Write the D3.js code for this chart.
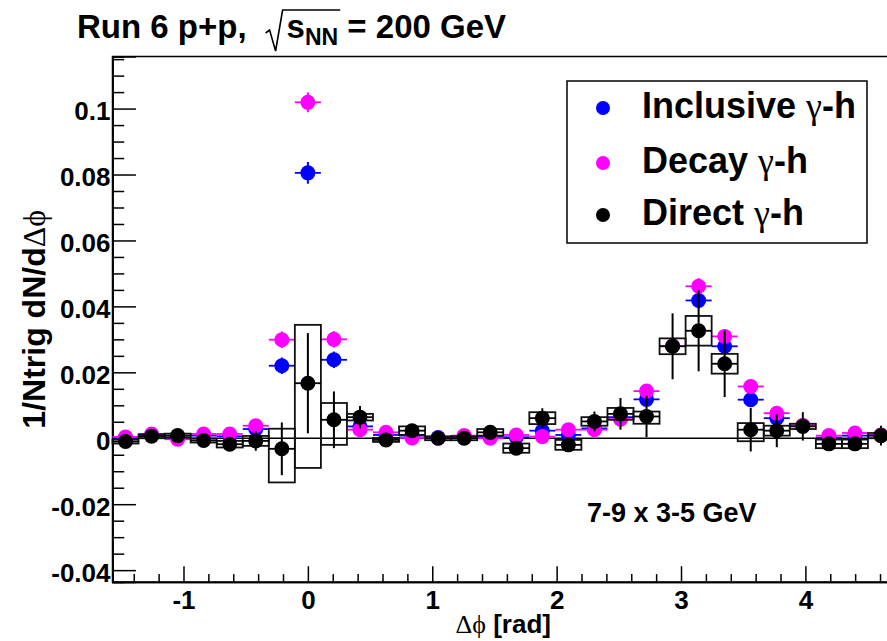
<!DOCTYPE html>
<html>
<head>
<meta charset="utf-8">
<script src="https://cdn.jsdelivr.net/npm/d3@7/dist/d3.min.js"></script>
<style>
  html, body { margin: 0; padding: 0; background: #fff; }
  svg { display: block; }
  text { font-family: "Liberation Sans", Arial, Helvetica, sans-serif; font-weight: bold; fill: #000; }
  .greek { font-family: "Liberation Serif", "DejaVu Serif", serif; font-weight: normal; }
</style>
</head>
<body>
<svg id="chart" width="887" height="641"></svg>
<script>
// Δφ bin centres (30 bins from -π/2 to 3π/2)
const phiBins = [-1.4661, -1.2566, -1.0472, -0.8378, -0.6283, -0.4189, -0.2094, 0.0, 0.2094, 0.4189,
                 0.6283, 0.8378, 1.0472, 1.2566, 1.4661, 1.6755, 1.8850, 2.0944, 2.3038, 2.5133,
                 2.7227, 2.9322, 3.1416, 3.3510, 3.5605, 3.7699, 3.9794, 4.1888, 4.3982, 4.6077];
const binHalfWidth = 0.1047;

// Inclusive γ-h
const inclusiveY = [0.0002, 0.0010, 0.0002, 0.0008, 0.0006, 0.0028, 0.0220, 0.0805, 0.0238, 0.0036,
                    0.0010, 0.0008, 0.0002, 0.0005, 0.0004, 0.0003, 0.0023, 0.0010, 0.0030, 0.0064,
                    0.0118, 0.0280, 0.0418, 0.0279, 0.0117, 0.0061, 0.0038, 0.0002, 0.0008, 0.0009];
const inclusiveErr = [0.0012, 0.0012, 0.0012, 0.0012, 0.0012, 0.0015, 0.0025, 0.0033, 0.0025, 0.0015,
                      0.0012, 0.0012, 0.0012, 0.0012, 0.0012, 0.0012, 0.0012, 0.0012, 0.0015, 0.0015,
                      0.0020, 0.0022, 0.0025, 0.0022, 0.0020, 0.0015, 0.0015, 0.0012, 0.0012, 0.0012];

// Decay γ-h
const decayY = [0.0004, 0.0013, -0.0003, 0.0013, 0.0013, 0.0038, 0.0299, 0.1019, 0.0300, 0.0026,
                0.0018, 0.0001, 0.0000, 0.0008, 0.0000, 0.0010, 0.0005, 0.0026, 0.0026, 0.0058,
                0.0143, 0.0280, 0.0461, 0.0309, 0.0157, 0.0076, 0.0039, 0.0008, 0.0016, 0.0010];
const decayErr = [0.0012, 0.0012, 0.0012, 0.0012, 0.0012, 0.0015, 0.0025, 0.0030, 0.0025, 0.0015,
                  0.0012, 0.0012, 0.0012, 0.0012, 0.0012, 0.0012, 0.0012, 0.0012, 0.0015, 0.0015,
                  0.0020, 0.0022, 0.0025, 0.0022, 0.0020, 0.0015, 0.0015, 0.0012, 0.0012, 0.0012];

// Direct γ-h, statistical errors and asymmetric systematic extents
const directY = [-0.0010, 0.0006, 0.0008, -0.0007, -0.0018, -0.0008, -0.0032, 0.0167, 0.0056, 0.0064,
                 -0.0005, 0.0023, 0.0000, 0.0000, 0.0018, -0.0030, 0.0061, -0.0020, 0.0051, 0.0074,
                 0.0066, 0.0279, 0.0326, 0.0226, 0.0026, 0.0023, 0.0036, -0.0017, -0.0017, 0.0008];
const directErr = [0.0020, 0.0020, 0.0020, 0.0020, 0.0020, 0.0030, 0.0080, 0.0152, 0.0086, 0.0034,
                   0.0020, 0.0020, 0.0020, 0.0020, 0.0022, 0.0020, 0.0030, 0.0020, 0.0030, 0.0048,
                   0.0063, 0.0100, 0.0123, 0.0101, 0.0066, 0.0050, 0.0043, 0.0020, 0.0020, 0.0030];
const directSysLow = [0.0006, 0.0006, 0.0006, 0.0006, 0.0010, 0.0015, 0.0102, 0.0257, 0.0076, 0.0010,
                      0.0006, 0.0013, 0.0006, 0.0006, 0.0010, 0.0014, 0.0018, 0.0015, 0.0013, 0.0018,
                      0.0022, 0.0024, 0.0045, 0.0030, 0.0035, 0.0015, 0.0008, 0.0013, 0.0013, 0.0008];
const directSysHigh = [0.0006, 0.0006, 0.0006, 0.0006, 0.0010, 0.0015, 0.0061, 0.0177, 0.0051, 0.0010,
                       0.0006, 0.0013, 0.0006, 0.0006, 0.0010, 0.0014, 0.0018, 0.0015, 0.0013, 0.0018,
                       0.0015, 0.0024, 0.0045, 0.0030, 0.0020, 0.0015, 0.0008, 0.0013, 0.0013, 0.0008];

// Axis ticks
const xMajorTicks = [-1, 0, 1, 2, 3, 4];
const xMinorTicks = [-1.4, -1.2, -0.8, -0.6, -0.4, -0.2, 0.2, 0.4, 0.6, 0.8, 1.2, 1.4, 1.6, 1.8,
                     2.2, 2.4, 2.6, 2.8, 3.2, 3.4, 3.6, 3.8, 4.2, 4.4, 4.6];
const yMajorTicks = [-0.04, -0.02, 0, 0.02, 0.04, 0.06, 0.08, 0.1];
const yMajorLabels = ["-0.04", "-0.02", "0", "0.02", "0.04", "0.06", "0.08", "0.1"];
const yMinorTicks = [-0.035, -0.03, -0.025, -0.015, -0.01, -0.005, 0.005, 0.01, 0.015, 0.025, 0.03,
                     0.035, 0.045, 0.05, 0.055, 0.065, 0.07, 0.075, 0.085, 0.09, 0.095, 0.105, 0.11, 0.115];

const seriesNames = ["Inclusive", "Decay", "Direct"];
const seriesColors = ["#0000ff", "#ff00ff", "#000000"];

// ---- layout ----
const frame = { left: 112.5, right: 894, top: 56.5, bottom: 582 };
const svg = d3.select("#chart");

const x = d3.scaleLinear().domain([-Math.PI / 2, 3 * Math.PI / 2]).range([frame.left, frame.right]);
const y = d3.scaleLinear().domain([-0.0436, 0.1158]).range([frame.bottom, frame.top]);

const plotW = frame.right - frame.left;
const plotH = frame.bottom - frame.top;

// frame
svg.append("rect")
  .attr("x", frame.left).attr("y", frame.top)
  .attr("width", plotW).attr("height", plotH)
  .attr("fill", "none").attr("stroke", "#000").attr("stroke-width", 1.5);

// y axis (ticks pointing into the frame)
const yLabel = d3.scaleOrdinal().domain(yMajorTicks).range(yMajorLabels);
const yAxis = svg.append("g").attr("transform", `translate(${frame.left},0)`)
  .call(d3.axisLeft(y).tickValues(yMajorTicks).tickSize(-0.03 * plotW).tickPadding(3)
    .tickFormat(d => yLabel(d)));
svg.append("g").attr("transform", `translate(${frame.left},0)`)
  .call(d3.axisLeft(y).tickValues(yMinorTicks).tickSize(-0.015 * plotW).tickFormat(""));

// x axis
const xAxis = svg.append("g").attr("transform", `translate(0,${frame.bottom})`)
  .call(d3.axisBottom(x).tickValues(xMajorTicks).tickSize(-0.03 * plotH).tickPadding(6)
    .tickFormat(d => String(d)));
svg.append("g").attr("transform", `translate(0,${frame.bottom})`)
  .call(d3.axisBottom(x).tickValues(xMinorTicks).tickSize(-0.015 * plotH).tickFormat(""));

svg.selectAll(".domain").attr("stroke", "#000").attr("stroke-width", 1.5);
svg.selectAll(".tick line").attr("stroke", "#000").attr("stroke-width", 1.5);
yAxis.selectAll(".tick text")
  .attr("font-size", 26).attr("font-family", "Liberation Sans, Arial, sans-serif")
  .attr("font-weight", "bold").attr("dy", "0.42em").attr("x", -2);
xAxis.selectAll(".tick text")
  .attr("font-size", 26).attr("font-family", "Liberation Sans, Arial, sans-serif")
  .attr("font-weight", "bold").attr("dy", "0.8em");

// zero reference line
svg.append("line")
  .attr("x1", frame.left).attr("x2", frame.right)
  .attr("y1", y(0)).attr("y2", y(0))
  .attr("stroke", "#000").attr("stroke-width", 1.5);

const plot = svg.append("g");
const markerR = 7.5;

function drawSeries(values, errors, color, sysLow, sysHigh) {
  const g = plot.append("g");
  const rows = phiBins.map((p, i) => ({ p, v: values[i], e: errors[i],
    lo: sysLow ? sysLow[i] : 0, hi: sysHigh ? sysHigh[i] : 0 }));
  if (sysLow) {
    g.selectAll("rect.sys").data(rows).join("rect").attr("class", "sys")
      .attr("x", d => x(d.p - binHalfWidth)).attr("width", d => x(d.p + binHalfWidth) - x(d.p - binHalfWidth))
      .attr("y", d => y(d.v + d.hi)).attr("height", d => y(d.v - d.lo) - y(d.v + d.hi))
      .attr("fill", "none").attr("stroke", "#111").attr("stroke-width", 1.8);
  }
  g.selectAll("line.h").data(rows).join("line").attr("class", "h")
    .attr("x1", d => x(d.p - binHalfWidth)).attr("x2", d => x(d.p + binHalfWidth))
    .attr("y1", d => y(d.v)).attr("y2", d => y(d.v))
    .attr("stroke", color).attr("stroke-width", 1.8);
  g.selectAll("line.v").data(rows).join("line").attr("class", "v")
    .attr("x1", d => x(d.p)).attr("x2", d => x(d.p))
    .attr("y1", d => y(d.v - d.e)).attr("y2", d => y(d.v + d.e))
    .attr("stroke", color).attr("stroke-width", 2);
  g.selectAll("circle").data(rows).join("circle")
    .attr("cx", d => x(d.p)).attr("cy", d => y(d.v)).attr("r", markerR)
    .attr("fill", color);
}

drawSeries(inclusiveY, inclusiveErr, seriesColors[0]);
drawSeries(decayY, decayErr, seriesColors[1]);
drawSeries(directY, directErr, seriesColors[2], directSysLow, directSysHigh);

// legend
const legend = svg.append("g");
legend.append("rect").attr("x", 567).attr("y", 81).attr("width", 300).attr("height", 162)
  .attr("fill", "#fff").attr("stroke", "#000").attr("stroke-width", 1.5);
const legendRows = [108, 163, 215];
seriesNames.forEach((name, i) => {
  legend.append("circle").attr("cx", 603).attr("cy", legendRows[i]).attr("r", 7)
    .attr("fill", seriesColors[i]);
  const t = legend.append("text").attr("x", 642).attr("y", legendRows[i] + 10).attr("font-size", 36);
  t.append("tspan").text(name + " ");
  t.append("tspan").attr("class", "greek").text("γ");
  t.append("tspan").text("-h");
});

// kinematic selection note
svg.append("text").attr("x", 587).attr("y", 522).attr("font-size", 27).text("7-9 x 3-5 GeV");

// x axis title
const xt = svg.append("text").attr("x", (frame.left + frame.right) / 2).attr("y", 633)
  .attr("text-anchor", "middle").attr("font-size", 26);
xt.append("tspan").attr("class", "greek").text("Δ\u03d5");
xt.append("tspan").text(" [rad]");

// y axis title
const yt = svg.append("text")
  .attr("transform", `translate(45,${(frame.top + frame.bottom) / 2}) rotate(-90)`)
  .attr("text-anchor", "middle").attr("font-size", 32);
yt.append("tspan").text("1/Ntrig dN/d");
yt.append("tspan").attr("class", "greek").text("Δ\u03d5");

// title with √s_NN
const title = svg.append("g");
const t1 = title.append("text").attr("x", 77).attr("y", 38).attr("font-size", 33).text("Run 6 p+p,");
const t1End = 77 + t1.node().getComputedTextLength();
const rootX = t1End + 19;
const t2 = title.append("text").attr("x", rootX + 21).attr("y", 38).attr("font-size", 33);
t2.append("tspan").text("s");
t2.append("tspan").attr("font-size", 23).attr("dy", 7).text("NN");
const sEnd = rootX + 21 + t2.node().getComputedTextLength();
title.append("path")
  .attr("d", `M${rootX},33 L${rootX + 4},30 L${rootX + 10},51 L${rootX + 17},10 L${sEnd + 2},10`)
  .attr("fill", "none").attr("stroke", "#000").attr("stroke-width", 1.6);
title.append("text").attr("x", sEnd).attr("y", 38).attr("font-size", 33).text("\u00a0= 200 GeV");
</script>
</body>
</html>
